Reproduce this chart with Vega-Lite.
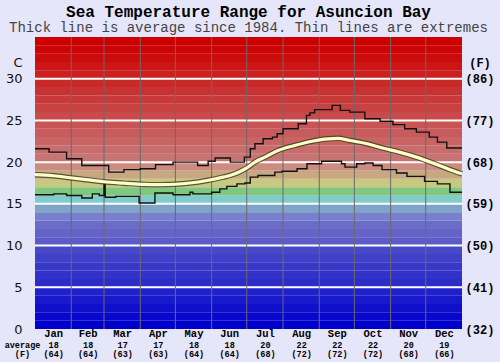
{
  "$schema": "https://vega.github.io/schema/vega-lite/v6.json",
  "width": 427,
  "height": 292,
  "autosize": {"type": "none"},
  "padding": {"left": 35, "top": 37, "right": 38, "bottom": 33},
  "background": "#e6e6fa",
  "config": {"view": {"stroke": null}},
  "title": {
    "text": "Sea Temperature Range for Asuncion Bay",
    "subtitle": "Thick line is average since 1984. Thin lines are extremes",
    "font": "Liberation Mono",
    "fontSize": 16,
    "fontWeight": "bold",
    "color": "#000000",
    "subtitleFont": "Liberation Mono",
    "subtitleFontSize": 14,
    "subtitleColor": "#444444",
    "subtitlePadding": 1.5,
    "anchor": "middle",
    "offset": 1.5
  },
  "datasets": {
    "bands": [
      {"lo": 0, "hi": 1}, {"lo": 1, "hi": 2}, {"lo": 2, "hi": 3}, {"lo": 3, "hi": 4}, {"lo": 4, "hi": 5},
      {"lo": 5, "hi": 6}, {"lo": 6, "hi": 7}, {"lo": 7, "hi": 8}, {"lo": 8, "hi": 9}, {"lo": 9, "hi": 10},
      {"lo": 10, "hi": 11}, {"lo": 11, "hi": 12}, {"lo": 12, "hi": 13}, {"lo": 13, "hi": 14}, {"lo": 14, "hi": 15},
      {"lo": 15, "hi": 16}, {"lo": 16, "hi": 17}, {"lo": 17, "hi": 18}, {"lo": 18, "hi": 19}, {"lo": 19, "hi": 20},
      {"lo": 20, "hi": 21}, {"lo": 21, "hi": 22}, {"lo": 22, "hi": 23}, {"lo": 23, "hi": 24}, {"lo": 24, "hi": 25},
      {"lo": 25, "hi": 26}, {"lo": 26, "hi": 27}, {"lo": 27, "hi": 28}, {"lo": 28, "hi": 29}, {"lo": 29, "hi": 30},
      {"lo": 30, "hi": 31}, {"lo": 31, "hi": 32}, {"lo": 32, "hi": 33}, {"lo": 33, "hi": 34}, {"lo": 34, "hi": 35}
    ],
    "hgrid": [{"t": 5}, {"t": 10}, {"t": 15}, {"t": 20}, {"t": 25}, {"t": 30}],
    "vgrid": [{"d": 31}, {"d": 59}, {"d": 90}, {"d": 120}, {"d": 151}, {"d": 181}, {"d": 212}, {"d": 243}, {"d": 273}, {"d": 304}, {"d": 334}],
    "upper": [
      {"d": 0, "T": 21.6}, {"d": 12, "T": 21.2}, {"d": 27, "T": 20.4}, {"d": 40, "T": 19.6}, {"d": 63, "T": 18.8},
      {"d": 76, "T": 19.1}, {"d": 90, "T": 19.2}, {"d": 103, "T": 19.7}, {"d": 118, "T": 20.0}, {"d": 139, "T": 19.6},
      {"d": 148, "T": 20.1}, {"d": 154, "T": 20.5}, {"d": 167, "T": 20.0}, {"d": 179, "T": 20.6}, {"d": 184, "T": 21.6},
      {"d": 188, "T": 22.2}, {"d": 195, "T": 22.8}, {"d": 203, "T": 23.0}, {"d": 207, "T": 23.4}, {"d": 212, "T": 24.0},
      {"d": 225, "T": 24.6}, {"d": 232, "T": 25.6}, {"d": 235, "T": 25.9}, {"d": 239, "T": 26.3}, {"d": 254, "T": 26.8},
      {"d": 261, "T": 26.2}, {"d": 269, "T": 26.0}, {"d": 282, "T": 25.2}, {"d": 295, "T": 24.9}, {"d": 306, "T": 24.5},
      {"d": 316, "T": 24.0}, {"d": 326, "T": 23.6}, {"d": 337, "T": 23.0}, {"d": 344, "T": 22.4}, {"d": 352, "T": 21.7},
      {"d": 365, "T": 21.7}
    ],
    "lower": [
      {"d": 0, "T": 16.1}, {"d": 16, "T": 16.2}, {"d": 27, "T": 16.0}, {"d": 40, "T": 15.7}, {"d": 49, "T": 16.2},
      {"d": 55, "T": 16.0}, {"d": 59, "T": 17.3}, {"d": 60, "T": 15.8}, {"d": 69, "T": 15.9}, {"d": 89, "T": 15.1},
      {"d": 102.5, "T": 16.3}, {"d": 118, "T": 16.1}, {"d": 132.5, "T": 16.4}, {"d": 135, "T": 16.2}, {"d": 151, "T": 16.4},
      {"d": 158, "T": 16.8}, {"d": 164, "T": 17.1}, {"d": 172.6, "T": 17.4}, {"d": 179.5, "T": 17.5}, {"d": 184, "T": 18.2},
      {"d": 190.6, "T": 18.4}, {"d": 205, "T": 18.8}, {"d": 211, "T": 18.9}, {"d": 224, "T": 19.2}, {"d": 232.5, "T": 19.8},
      {"d": 245, "T": 20.1}, {"d": 262, "T": 19.8}, {"d": 265, "T": 19.4}, {"d": 275, "T": 19.8}, {"d": 282, "T": 19.9},
      {"d": 289, "T": 19.6}, {"d": 296.6, "T": 19.1}, {"d": 309, "T": 18.7}, {"d": 318, "T": 18.3}, {"d": 333, "T": 17.7},
      {"d": 344, "T": 17.4}, {"d": 354.7, "T": 16.4}, {"d": 365, "T": 16.4}
    ],
    "avg": [
      {"d": 0, "T": 18.5}, {"d": 16, "T": 18.37}, {"d": 30, "T": 18.13}, {"d": 42, "T": 17.93}, {"d": 59, "T": 17.65},
      {"d": 76, "T": 17.48}, {"d": 93, "T": 17.33}, {"d": 107, "T": 17.3}, {"d": 120, "T": 17.35}, {"d": 132.5, "T": 17.5},
      {"d": 147, "T": 17.8}, {"d": 160.7, "T": 18.2}, {"d": 166.7, "T": 18.4}, {"d": 175, "T": 18.85}, {"d": 181, "T": 19.3},
      {"d": 188, "T": 20.0}, {"d": 196.6, "T": 20.6}, {"d": 207.7, "T": 21.4}, {"d": 222, "T": 22.0}, {"d": 236.8, "T": 22.5},
      {"d": 250.4, "T": 22.8}, {"d": 259, "T": 22.85}, {"d": 269, "T": 22.6}, {"d": 284, "T": 22.2}, {"d": 297, "T": 21.7},
      {"d": 311.5, "T": 21.2}, {"d": 326, "T": 20.6}, {"d": 340, "T": 19.9}, {"d": 354.7, "T": 19.1}, {"d": 365, "T": 18.6}
    ]
  },
  "layer": [
    {
      "data": {"name": "bands"},
      "mark": {"type": "rect"},
      "encoding": {
        "x": {"datum": 0, "type": "quantitative", "scale": {"domain": [0, 365], "nice": false, "zero": false}, "axis": null},
        "x2": {"datum": 365},
        "y": {
          "field": "lo", "type": "quantitative",
          "scale": {"domain": [0, 35], "nice": false, "zero": false},
          "axis": {
            "title": null, "orient": "left", "domain": false, "ticks": false, "grid": false,
            "values": [0, 5, 10, 15, 20, 25, 30, 32],
            "labelExpr": "datum.value > 31 ? 'C' : datum.label",
            "labelFont": "DejaVu Sans", "labelFontSize": 13, "labelColor": "#111111",
            "labelPadding": 13, "labelOverlap": false, "labelBound": false, "labelFlush": false
          }
        },
        "y2": {"field": "hi"},
        "color": {
          "field": "lo", "type": "ordinal", "legend": null,
          "scale": {
            "domain": [0,1,2,3,4,5,6,7,8,9,10,11,12,13,14,15,16,17,18,19,20,21,22,23,24,25,26,27,28,29,30,31,32,33,34],
            "range": ["#0000cc","#0808cc","#1010cc","#1818cc","#2020cc","#2c2cc8","#3232c8","#3838c8","#4040c8","#4848c8","#5c5cc8","#6464c8","#6c6cc8","#7680cc","#80a4c8","#80cccc","#80c880","#c8c880","#c8a880","#cc8c80","#c87474","#c86c6c","#c86464","#c85c5c","#c85454","#c84a4a","#c84242","#c83a3a","#c83232","#c82a2a","#cc2020","#cc1616","#cc0c0c","#cc0404","#cc0000"]
          }
        }
      }
    },
    {
      "data": {"name": "hgrid"},
      "mark": {"type": "rule", "color": "#ffffff", "strokeWidth": 2},
      "encoding": {
        "y": {"field": "t", "type": "quantitative", "scale": {"domain": [0, 35], "nice": false, "zero": false}, "axis": null}
      }
    },
    {
      "data": {"name": "vgrid"},
      "mark": {"type": "rule", "color": "#6a6a6a", "strokeWidth": 1},
      "encoding": {
        "x": {
          "field": "d", "type": "quantitative",
          "scale": {"domain": [0, 365], "nice": false, "zero": false},
          "axis": {
            "title": null, "orient": "bottom", "domain": false, "ticks": false, "grid": false,
            "values": [15.5, 45, 74.5, 105, 135.5, 166, 196.5, 227.5, 258, 288.5, 319, 349.5],
            "labelExpr": "datum.value < 30 ? 'Jan' : datum.value < 60 ? 'Feb' : datum.value < 90 ? 'Mar' : datum.value < 120 ? 'Apr' : datum.value < 150 ? 'May' : datum.value < 180 ? 'Jun' : datum.value < 210 ? 'Jul' : datum.value < 240 ? 'Aug' : datum.value < 270 ? 'Sep' : datum.value < 300 ? 'Oct' : datum.value < 330 ? 'Nov' : 'Dec'",
            "labelFont": "Liberation Mono", "labelFontSize": 10.5, "labelFontWeight": "bold", "labelColor": "#000000",
            "labelPadding": -0.5, "labelAngle": 0, "labelOverlap": false, "labelBound": false, "labelFlush": false
          }
        }
      }
    },
    {
      "data": {"name": "upper"},
      "mark": {"type": "line", "interpolate": "step-after", "color": "#111111", "strokeWidth": 1.4},
      "encoding": {
        "x": {"field": "d", "type": "quantitative", "scale": {"domain": [0, 365], "nice": false, "zero": false}, "axis": null},
        "y": {"field": "T", "type": "quantitative", "scale": {"domain": [0, 35], "nice": false, "zero": false}, "axis": null}
      }
    },
    {
      "data": {"name": "lower"},
      "mark": {"type": "line", "interpolate": "step-after", "color": "#111111", "strokeWidth": 1.4},
      "encoding": {
        "x": {"field": "d", "type": "quantitative", "scale": {"domain": [0, 365], "nice": false, "zero": false}, "axis": null},
        "y": {"field": "T", "type": "quantitative", "scale": {"domain": [0, 35], "nice": false, "zero": false}, "axis": null}
      }
    },
    {
      "data": {"name": "avg"},
      "mark": {"type": "line", "interpolate": "monotone", "color": "#3a3a2a", "strokeWidth": 5.5, "opacity": 0.8},
      "encoding": {
        "x": {"field": "d", "type": "quantitative", "scale": {"domain": [0, 365], "nice": false, "zero": false}, "axis": null},
        "y": {"field": "T", "type": "quantitative", "scale": {"domain": [0, 35], "nice": false, "zero": false}, "axis": null}
      }
    },
    {
      "data": {"name": "avg"},
      "mark": {"type": "line", "interpolate": "monotone", "color": "#ffffc4", "strokeWidth": 3.2},
      "encoding": {
        "x": {
          "field": "d", "type": "quantitative",
          "scale": {"domain": [0, 365], "nice": false, "zero": false},
          "axis": {
            "title": ["average", "(F)"],
            "titleFont": "Liberation Mono", "titleFontSize": 8.5, "titleFontWeight": "bold", "titleColor": "#000000",
            "titleLineHeight": 9.5, "titleAlign": "center", "titleBaseline": "top", "titleAngle": 0,
            "titleX": -13, "titleY": 11,
            "orient": "bottom", "domain": false, "ticks": false, "grid": false,
            "values": [15.5, 45, 74.5, 105, 135.5, 166, 196.5, 227.5, 258, 288.5, 319, 349.5],
            "labelExpr": "datum.value < 30 ? ['18', '(64)'] : datum.value < 60 ? ['18', '(64)'] : datum.value < 90 ? ['17', '(63)'] : datum.value < 120 ? ['17', '(63)'] : datum.value < 150 ? ['18', '(64)'] : datum.value < 180 ? ['18', '(64)'] : datum.value < 210 ? ['20', '(68)'] : datum.value < 240 ? ['22', '(72)'] : datum.value < 270 ? ['22', '(72)'] : datum.value < 300 ? ['22', '(72)'] : datum.value < 330 ? ['20', '(68)'] : ['19', '(66)']",
            "labelFont": "Liberation Mono", "labelFontSize": 8.5, "labelFontWeight": "bold", "labelColor": "#000000",
            "labelLineHeight": 9.5, "labelPadding": 11, "labelAngle": 0,
            "labelOverlap": false, "labelBound": false, "labelFlush": false
          }
        },
        "y": {
          "field": "T", "type": "quantitative",
          "scale": {"domain": [0, 35], "nice": false, "zero": false},
          "axis": {
            "title": null, "orient": "right", "domain": false, "ticks": false, "grid": false,
            "values": [0, 5, 10, 15, 20, 25, 30, 32],
            "labelExpr": "datum.value > 31 ? '(F)' : '(' + format(datum.value * 1.8 + 32, 'd') + ')'",
            "labelFont": "Liberation Mono", "labelFontSize": 12, "labelFontWeight": "bold", "labelColor": "#000000",
            "labelAlign": "center", "labelPadding": 17.5,
            "labelOverlap": false, "labelBound": false, "labelFlush": false
          }
        }
      }
    }
  ],
  "resolve": {"scale": {"x": "independent", "y": "independent"}}
}
